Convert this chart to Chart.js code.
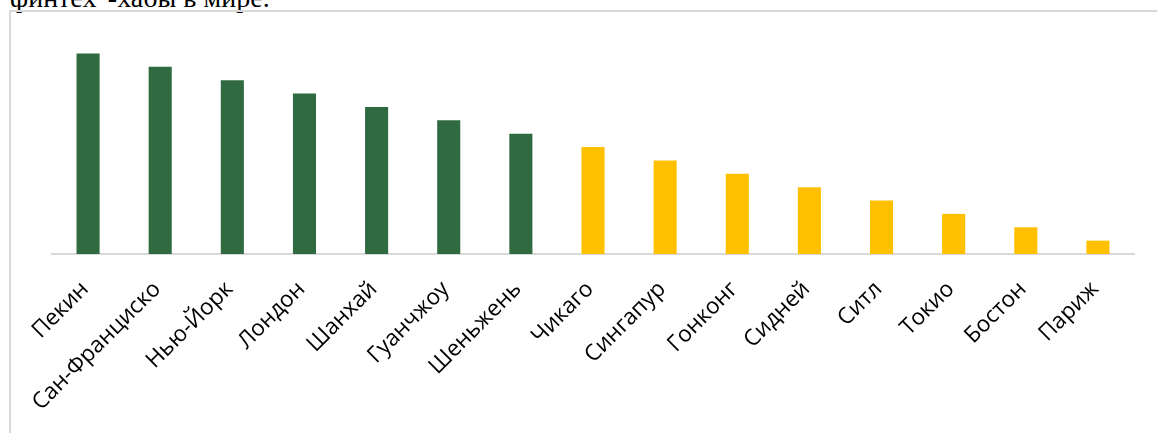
<!DOCTYPE html>
<html><head><meta charset="utf-8">
<script src="https://cdn.jsdelivr.net/npm/chart.js@4/dist/chart.umd.min.js"></script>
<style>
html,body{margin:0;padding:0;background:#fff;width:1157px;height:433px;overflow:hidden;position:relative;}
#title{position:absolute;left:10px;top:-16px;font-family:"Liberation Serif","Times New Roman",serif;font-size:28px;line-height:28px;color:#000;white-space:nowrap;}
#box{position:absolute;left:9px;top:10px;width:1200px;height:500px;border:2px solid #d9d9d9;box-sizing:border-box;}
#wrap{position:absolute;left:0;top:0;width:1157px;height:433px;}
</style></head>
<body>
<div id="title">финтех"-хабы в мире.</div>
<div id="box"></div>
<div id="wrap"><canvas id="c"></canvas></div>
<script>
const categories = ["Пекин","Сан-Франциско","Нью-Йорк","Лондон","Шанхай","Гуанчжоу","Шеньжень","Чикаго","Сингапур","Гонконг","Сидней","Ситл","Токио","Бостон","Париж"];
const values = [15,14,13,12,11,10,9,8,7,6,5,4,3,2,1];
const groups = ["g","g","g","g","g","g","g","y","y","y","y","y","y","y","y"];
const palette = {g:"#2F6A41", y:"#FFC000"};

new Chart(document.getElementById('c'), {
  type:'bar',
  data:{labels:categories, datasets:[{data:values, backgroundColor:groups.map(g=>palette[g]), barPercentage:0.32, categoryPercentage:1}]},
  options:{
    responsive:true, maintainAspectRatio:false, animation:false,
    layout:{padding:{left:52,right:23,top:40,bottom:0}},
    plugins:{legend:{display:false}, tooltip:{enabled:false}},
    scales:{
      x:{
        grid:{display:false, drawTicks:false},
        border:{display:true,color:'#d9d9d9',width:2},
        ticks:{maxRotation:45,minRotation:45,autoSkip:false,padding:22,labelOffset:-3,color:'#000',font:{family:'"Open Sans"',size:22.5}},
        afterFit:(s)=>{s.paddingLeft=0;s.paddingRight=0;s.height=179;}
      },
      y:{display:false,min:0,max:16}
    }
  }
});
</script>
</body></html>
